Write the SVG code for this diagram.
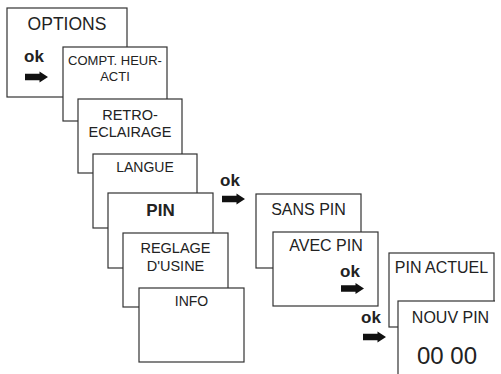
<svg xmlns="http://www.w3.org/2000/svg" width="501" height="374" viewBox="0 0 501 374">
<style>
.box{fill:#fff;stroke:#333;stroke-width:1.2}
text{font-family:"Liberation Sans",Arial,sans-serif;fill:#222;text-anchor:middle}
.ok{font-weight:bold;font-size:17px;text-anchor:start}
.arr{fill:#111}
</style>
<defs>
<path id="arrow" d="M0,-3.2 H14.5 V-5.5 L23,0 L14.5,5.5 V3.2 H0 Z"/>
<clipPath id="clip"><rect x="0" y="0" width="495" height="374"/></clipPath>
</defs>
<g id="options"><rect class="box" x="7" y="8" width="120" height="89"/><text x="67" y="30" font-size="17.5">OPTIONS</text></g>
<g id="compt"><rect class="box" x="63" y="47" width="104" height="74"/><text x="115" y="65" font-size="13">COMPT. HEUR-</text><text x="115" y="81" font-size="13">ACTI</text></g>
<g id="retro"><rect class="box" x="78" y="99" width="104" height="74"/><text x="130" y="120" font-size="14.5">RETRO-</text><text x="130" y="137" font-size="14.5">ECLAIRAGE</text></g>
<g id="langue"><rect class="box" x="93" y="154" width="104" height="74"/><text x="145" y="172" font-size="14">LANGUE</text></g>
<g id="pin"><rect class="box" x="108" y="193" width="105" height="75"/><text x="160.5" y="216" font-size="17" font-weight="bold">PIN</text></g>
<g id="reglage"><rect class="box" x="123" y="233" width="105" height="74"/><text x="175.5" y="253" font-size="14.5">REGLAGE</text><text x="175.5" y="271" font-size="14.5">D'USINE</text></g>
<g id="info"><rect class="box" x="139" y="288" width="105" height="74"/><text x="191.5" y="306" font-size="14">INFO</text></g>
<g id="sanspin"><rect class="box" x="256" y="194" width="105" height="74"/><text x="308.5" y="215" font-size="16">SANS PIN</text></g>
<g id="avecpin"><rect class="box" x="273" y="232" width="105" height="74"/><text x="326" y="251" font-size="16">AVEC PIN</text></g>
<g id="pinactuel"><rect class="box" x="389" y="253" width="105" height="74"/><text x="441.5" y="273" font-size="16">PIN ACTUEL</text></g>
<g id="nouvpin" clip-path="url(#clip)"><rect class="box" x="398" y="301" width="105" height="90"/><text x="450.5" y="323" font-size="16">NOUV PIN</text><text x="447" y="364" font-size="24">00 00</text></g>
<g id="connectors">
<text class="ok" x="24" y="62">ok</text><use href="#arrow" class="arr" x="25" y="77"/>
<text class="ok" x="220" y="186">ok</text><use href="#arrow" class="arr" x="222" y="199"/>
<text class="ok" x="340" y="277">ok</text><use href="#arrow" class="arr" x="341" y="288.5"/>
<text class="ok" x="361" y="323">ok</text><use href="#arrow" class="arr" x="363" y="337"/>
</g>
</svg>
